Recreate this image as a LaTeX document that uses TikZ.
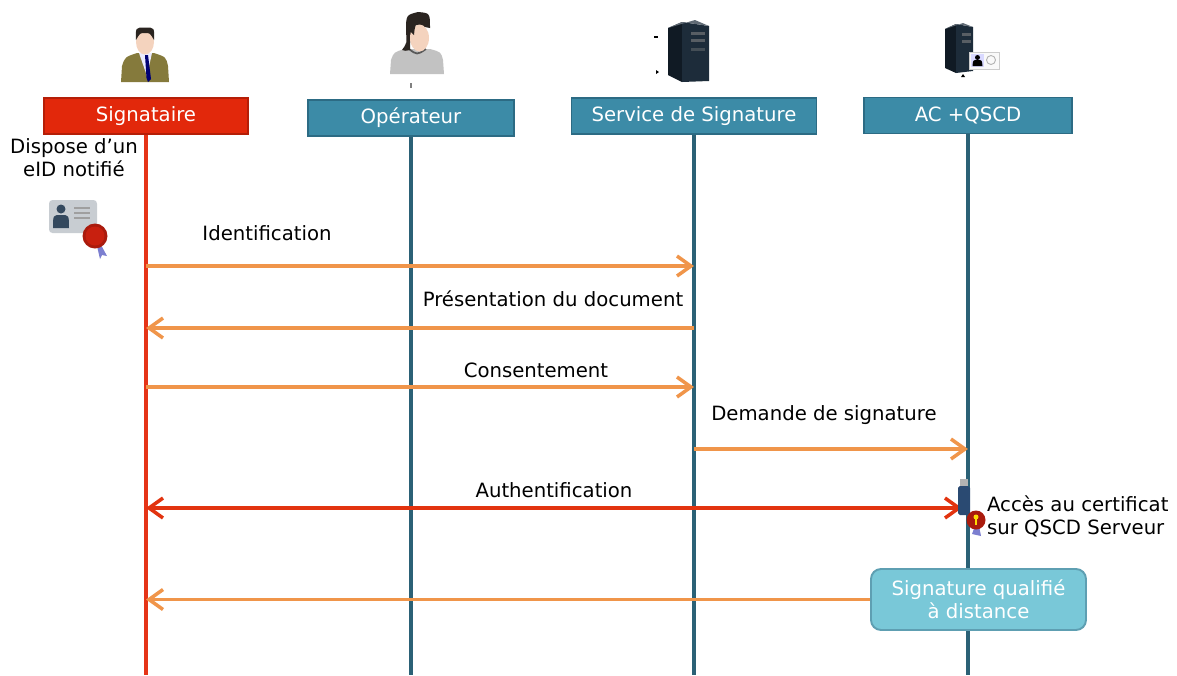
\documentclass[tikz,border=0pt]{standalone}
\usepackage{fontspec}
\setmainfont{DejaVu Sans}
\usetikzlibrary{arrows.meta}

\definecolor{sigred}{HTML}{E2280B}
\definecolor{sigline}{HTML}{E53417}
\definecolor{sigborder}{HTML}{B51E07}
\definecolor{tealbox}{HTML}{3C8BA7}
\definecolor{tealborder}{HTML}{2C6B84}
\definecolor{tealline}{HTML}{2B6176}
\definecolor{msgorange}{HTML}{F0954A}
\definecolor{authred}{HTML}{E2330F}
\definecolor{resultbox}{HTML}{79C8D8}
\definecolor{resultborder}{HTML}{5E9FB2}
\definecolor{jacket}{HTML}{857A3C}
\definecolor{skin}{HTML}{F4D3BE}
\definecolor{hair}{HTML}{2A2420}
\definecolor{shirtgray}{HTML}{C2C2C2}
\definecolor{tower}{HTML}{1D2C3A}
\definecolor{towerside}{HTML}{101A24}
\definecolor{cardgray}{HTML}{C8CDD2}
\definecolor{cardicon}{HTML}{34495E}
\definecolor{sealred}{HTML}{C8200F}
\definecolor{ribbon}{HTML}{7C7FD0}
\definecolor{usbblue}{HTML}{2A4A72}

\begin{document}
\begin{tikzpicture}[
  actor/.style={draw=tealborder, fill=tealbox, line width=1.1pt, text=white,
                minimum width=#1, minimum height=0.72cm, inner sep=0pt,
                font=\fontsize{11.2}{13}\selectfont},
  signer/.style={actor=#1, draw=sigborder, fill=sigred},
  life/.style={tealline, line width=2.3pt},
  msg/.style={msgorange, line width=2pt, -{Straight Barb[length=2.8mm,width=4mm]}},
  auth/.style={authred, line width=2pt,
               {Straight Barb[length=2.8mm,width=4mm]}-{Straight Barb[length=2.8mm,width=4mm]}},
  lbl/.style={font=\fontsize{11.2}{13}\selectfont, inner sep=1pt},
  result/.style={draw=resultborder, fill=resultbox, line width=1.1pt, rounded corners=0.2cm,
                 text=white, align=center, minimum width=4.3cm, minimum height=1.22cm,
                 font=\fontsize{11.2}{13}\selectfont}
]
  \useasboundingbox (0,0) rectangle (23.54,-13.5);

  % lifeline heads
  \node[signer=4.08cm] (sig) at (2.92,-2.32)  {Signataire};
  \node[actor=4.12cm]  (op)  at (8.22,-2.36)  {Opérateur};
  \node[actor=4.9cm]   (svc) at (13.88,-2.32) {Service de Signature};
  \node[actor=4.16cm]  (ac)  at (19.36,-2.31) {AC +QSCD};

  \coordinate (bottom) at (0,-13.5);
  \draw[sigline, line width=2.2pt] (sig.south) -- (sig |- bottom);
  \draw[life] (op.south)  -- (op |- bottom);
  \draw[life] (svc.south) -- (svc |- bottom);
  \draw[life] (ac.south)  -- (ac |- bottom);

  % message levels
  \coordinate (y1) at (0,-5.32);
  \coordinate (y2) at (0,-6.56);
  \coordinate (y3) at (0,-7.74);
  \coordinate (y4) at (0,-8.98);
  \coordinate (y5) at (0,-10.16);
  \coordinate (usb) at (19.24,-10.16);

  \node[result] (res) at (19.57,-11.99) {Signature qualifié\\à distance};

  \draw[msg]  (sig |- y1) -- (svc |- y1);
  \draw[msg]  (svc |- y2) -- (sig |- y2);
  \draw[msg]  (sig |- y3) -- (svc |- y3);
  \draw[msg]  (svc |- y4) -- (ac |- y4);
  \draw[auth] (sig |- y5) -- (usb);
  \draw[msg]  (res.west) -- (sig |- res.west);

  \node[lbl] (l1) at (5.34,-4.66)  {Identification};
  \node[lbl] (l2) at (11.06,-5.98) {Présentation du document};
  \node[lbl] (l3) at (10.72,-7.40) {Consentement};
  \node[lbl] (l4) at (16.48,-8.30) {Demande de signature};
  \node[lbl] (l5) at (11.08,-9.80) {Authentification};

  \node[lbl, align=center] (eid) at (1.48,-3.16) {Dispose d’un\\eID notifié};
  \node[lbl, align=left, anchor=west] (acc) at (19.7,-10.32) {Accès au certificat\\sur QSCD Serveur};

  % signer
  \fill[jacket] (2.42,-1.64) -- (2.44,-1.32) .. controls (2.5,-1.14) .. (2.74,-1.06)
    -- (3.08,-1.06) .. controls (3.32,-1.14) .. (3.36,-1.32) -- (3.38,-1.64) -- cycle;
  \fill[white!92!blue] (2.78,-1.06) -- (3.04,-1.06) -- (2.94,-1.52) -- cycle;
  \fill[blue!45!black] (2.9,-1.1) -- (2.96,-1.1) -- (3.02,-1.58) -- (2.96,-1.64) -- (2.93,-1.56) -- cycle;
  \fill[skin] (2.9,-0.84) ellipse (0.18 and 0.25);
  \fill[hair] (2.72,-0.8) .. controls (2.71,-0.55) .. (2.9,-0.55) .. controls (3.09,-0.55) .. (3.08,-0.8)
    .. controls (3.0,-0.66) .. (2.9,-0.66) .. controls (2.8,-0.66) .. (2.72,-0.8) -- cycle;

  % operator
  \fill[shirtgray] (7.8,-1.48) -- (7.82,-1.2) .. controls (7.88,-1.04) .. (8.1,-0.98)
    -- (8.6,-0.98) .. controls (8.82,-1.04) .. (8.86,-1.2) -- (8.88,-1.48) -- cycle;
  \draw[gray!70!black, line width=1pt] (8.18,-0.98) .. controls (8.34,-1.1) .. (8.52,-0.98);
  \fill[hair] (8.12,-0.64) .. controls (8.12,-0.3) .. (8.36,-0.24) .. controls (8.6,-0.26) .. (8.6,-0.56)
    -- (8.3,-0.5) .. controls (8.2,-0.8) .. (8.2,-1.0) .. controls (8.1,-1.02) .. (8.04,-1.0)
    .. controls (8.14,-0.86) .. (8.12,-0.64) -- cycle;
  \fill[skin] (8.39,-0.76) ellipse (0.19 and 0.27);
  \fill[hair] (8.2,-0.62) .. controls (8.22,-0.4) .. (8.4,-0.42) .. controls (8.3,-0.5) .. (8.28,-0.7) -- cycle;
  \draw[gray, line width=0.6pt] (8.22,-1.66) -- (8.22,-1.76);

  % signature service
  \fill[towerside] (13.36,-0.56) -- (13.64,-0.44) -- (13.64,-1.64) -- (13.36,-1.5) -- cycle;
  \fill[tower] (13.64,-0.44) -- (14.18,-0.52) -- (14.18,-1.62) -- (13.64,-1.64) -- cycle;
  \fill[tower!70!white] (13.36,-0.56) -- (13.64,-0.44) -- (14.18,-0.52) -- (13.9,-0.4) -- cycle;
  \fill[gray!60!tower] (13.82,-0.64) rectangle (14.1,-0.7);
  \fill[gray!60!tower] (13.82,-0.78) rectangle (14.1,-0.84);
  \fill[gray!40!tower] (13.82,-0.96) rectangle (14.1,-1.02);
  \draw[black, line width=0.6pt] (13.08,-0.74) -- (13.16,-0.74);
  \fill[black] (13.12,-1.4) -- (13.18,-1.44) -- (13.12,-1.48) -- cycle;

  % certification authority
  \fill[towerside] (18.9,-0.58) -- (19.12,-0.48) -- (19.12,-1.46) -- (18.9,-1.36) -- cycle;
  \fill[tower] (19.12,-0.48) -- (19.46,-0.54) -- (19.46,-1.42) -- (19.12,-1.46) -- cycle;
  \fill[tower!70!white] (18.9,-0.58) -- (19.12,-0.48) -- (19.46,-0.54) -- (19.26,-0.46) -- cycle;
  \fill[gray!60!tower] (19.24,-0.66) rectangle (19.42,-0.71);
  \fill[gray!60!tower] (19.24,-0.8) rectangle (19.42,-0.85);
  \fill[white!95!gray, draw=gray!40] (19.38,-1.04) rectangle (19.98,-1.38);
  \fill[blue!15] (19.42,-1.08) rectangle (19.68,-1.34);
  \fill[black] (19.55,-1.15) circle (0.05);
  \fill[black] (19.45,-1.32) .. controls (19.46,-1.2) .. (19.55,-1.2) .. controls (19.64,-1.2) .. (19.65,-1.32) -- cycle;
  \draw[gray!60, line width=0.5pt] (19.82,-1.2) circle (0.09);
  \fill[black] (19.26,-1.48) -- (19.3,-1.54) -- (19.22,-1.54) -- cycle;

  % notified eID card
  \fill[cardgray, rounded corners=2pt] (0.98,-4.0) rectangle (1.94,-4.66);
  \fill[cardicon] (1.22,-4.18) circle (0.09);
  \fill[cardicon] (1.06,-4.56) .. controls (1.06,-4.3) .. (1.22,-4.3) .. controls (1.38,-4.3) .. (1.38,-4.56) -- cycle;
  \foreach \yy in {-4.14,-4.24,-4.34}
    \fill[gray!75] (1.48,\yy) rectangle (1.8,\yy-0.045);
  \fill[ribbon] (1.9,-4.86) -- (2.0,-4.86) -- (2.14,-5.12) -- (2.04,-5.1) -- (2.0,-5.18) -- (1.94,-4.92) -- cycle;
  \fill[sealred!85!black] (1.9,-4.72) circle (0.25);
  \fill[sealred] (1.9,-4.72) circle (0.19);

  % QSCD token
  \fill[gray!60] (19.2,-9.58) rectangle (19.36,-9.72);
  \fill[usbblue, rounded corners=1pt] (19.16,-9.72) rectangle (19.4,-10.3);
  \fill[ribbon] (19.5,-10.52) -- (19.58,-10.52) -- (19.62,-10.72) -- (19.44,-10.68) -- cycle;
  \fill[sealred!85!black] (19.52,-10.4) circle (0.19);
  \fill[yellow!80!orange] (19.52,-10.34) circle (0.05);
  \fill[yellow!80!orange] (19.5,-10.36) rectangle (19.54,-10.5);
\end{tikzpicture}
\end{document}
